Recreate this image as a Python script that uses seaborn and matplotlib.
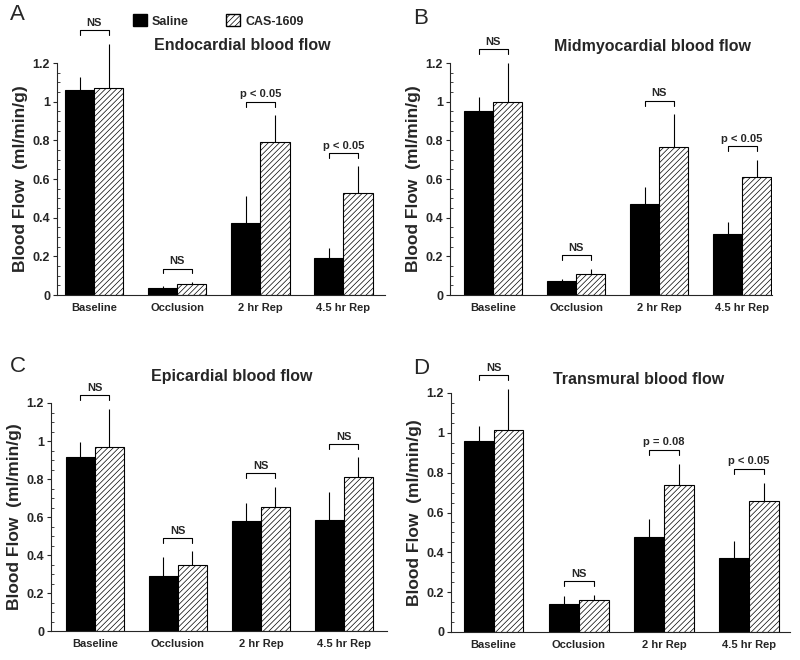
import numpy as np
import pandas as pd
import matplotlib
matplotlib.use("Agg")
import matplotlib.pyplot as plt
from matplotlib.patches import Patch
from matplotlib.ticker import MultipleLocator, FuncFormatter
import seaborn as sns

# ---------------------------------------------------------------- data
times = ["Baseline", "Occlusion", "2 hr Rep", "4.5 hr Rep"]
groups = ["Saline", "CAS-1609"]

titles = ["Endocardial blood flow", "Midmyocardial blood flow",
          "Epicardial blood flow", "Transmural blood flow"]
letters = ["A", "B", "C", "D"]

# panel A - endocardial
endo_saline = [1.06, 0.035, 0.37, 0.19]
endo_saline_err = [0.065, 0.01, 0.14, 0.055]
endo_cas = [1.07, 0.055, 0.79, 0.53]
endo_cas_err = [0.23, 0.012, 0.14, 0.135]
endo_sig = ["NS", "NS", "p < 0.05", "p < 0.05"]

# panel B - midmyocardial
mid_saline = [0.95, 0.07, 0.47, 0.315]
mid_saline_err = [0.075, 0.015, 0.09, 0.065]
mid_cas = [1.0, 0.11, 0.765, 0.61]
mid_cas_err = [0.2, 0.025, 0.17, 0.09]
mid_sig = ["NS", "NS", "NS", "p < 0.05"]

# panel C - epicardial
epi_saline = [0.915, 0.29, 0.58, 0.585]
epi_saline_err = [0.08, 0.1, 0.095, 0.145]
epi_cas = [0.97, 0.345, 0.655, 0.81]
epi_cas_err = [0.2, 0.075, 0.105, 0.105]
epi_sig = ["NS", "NS", "NS", "NS"]

# panel D - transmural
trans_saline = [0.96, 0.14, 0.475, 0.37]
trans_saline_err = [0.075, 0.04, 0.09, 0.085]
trans_cas = [1.015, 0.16, 0.74, 0.66]
trans_cas_err = [0.205, 0.025, 0.105, 0.09]
trans_sig = ["NS", "NS", "p = 0.08", "p < 0.05"]

panels = [
    (endo_saline, endo_saline_err, endo_cas, endo_cas_err, endo_sig),
    (mid_saline, mid_saline_err, mid_cas, mid_cas_err, mid_sig),
    (epi_saline, epi_saline_err, epi_cas, epi_cas_err, epi_sig),
    (trans_saline, trans_saline_err, trans_cas, trans_cas_err, trans_sig),
]

# ---------------------------------------------------------------- style
sns.set_style("ticks")
plt.rcParams["font.family"] = ["Liberation Sans", "DejaVu Sans"]
plt.rcParams["hatch.linewidth"] = 0.5
plt.rcParams["axes.linewidth"] = 0.8

W, H = 800, 660
fig = plt.figure(figsize=(8, 6.6), dpi=100)

# axes rects in pixels: left, top, right, bottom
rects = [(57, 63, 385, 295), (450, 63, 772, 295),
         (51, 403, 387, 631), (451, 393, 790, 632)]
xlims = [(-0.45, 3.5), (-0.52, 3.36), (-0.53, 3.52), (-0.5, 3.48)]
letter_pos = [(17, 15), (421, 18), (18, 366), (421, 368)]
title_pos = [(242, 45), (652, 47), (232, 377), (639, 379)]

HATCH = "//////"

for i, (sal, sal_err, cas, cas_err, sig) in enumerate(panels):
    l, t, r, b = rects[i]
    ax = fig.add_axes([l / W, 1 - b / H, (r - l) / W, (b - t) / H])

    df = pd.DataFrame({
        "time": times * 2,
        "group": [groups[0]] * 4 + [groups[1]] * 4,
        "flow": sal + cas,
    })
    sns.barplot(data=df, x="time", y="flow", hue="group", order=times,
                hue_order=groups, palette=["black", "white"],
                edgecolor="black", linewidth=0.8, width=0.7,
                errorbar=None, legend=False, ax=ax)

    for bar in ax.containers[1]:
        bar.set_hatch(HATCH)

    tops = []
    for cont, err in zip(ax.containers, [sal_err, cas_err]):
        xs = [p.get_x() + p.get_width() / 2 for p in cont]
        hs = [p.get_height() for p in cont]
        ax.errorbar(xs, hs, yerr=[np.zeros(len(err)), err], fmt="none",
                    ecolor="black", elinewidth=0.8, capsize=0, clip_on=False)
        tops.append((xs, np.array(hs) + np.array(err)))

    # significance brackets
    for j in range(len(times)):
        x1 = tops[0][0][j]
        x2 = tops[1][0][j]
        y = max(tops[0][1][j], tops[1][1][j]) + 0.07
        ax.plot([x1, x1, x2, x2], [y - 0.025, y, y, y - 0.025],
                color="black", lw=0.8, clip_on=False)
        ax.text((x1 + x2) / 2, y + 0.012, sig[j], ha="center", va="bottom",
                fontsize=8, fontweight="bold")

    ax.set_xlim(*xlims[i])
    ax.set_ylim(0, 1.2)
    ax.yaxis.set_major_locator(MultipleLocator(0.2))
    ax.yaxis.set_minor_locator(MultipleLocator(0.05))
    ax.yaxis.set_major_formatter(FuncFormatter(lambda v, p: f"{v:g}"))
    ax.tick_params(axis="y", which="major", direction="out", length=3,
                   width=0.8, labelsize=9, pad=2)
    ax.tick_params(axis="y", which="minor", direction="in", length=2,
                   width=0.6)
    ax.tick_params(axis="x", length=0, labelsize=8, pad=6)
    for lab in ax.get_xticklabels() + ax.get_yticklabels():
        lab.set_fontweight("bold")
    ax.set_xlabel("")
    ax.set_ylabel("Blood Flow  (ml/min/g)", fontsize=12.5,
                  fontweight="bold", labelpad=3)
    sns.despine(ax=ax)

    fig.text(letter_pos[i][0] / W, 1 - letter_pos[i][1] / H, letters[i],
             fontsize=16, ha="center", va="center")
    fig.text(title_pos[i][0] / W, 1 - title_pos[i][1] / H, titles[i],
             fontsize=11.5, fontweight="bold", ha="center", va="center")

# legend
handles = [Patch(facecolor="black", edgecolor="black"),
           Patch(facecolor="white", edgecolor="black", hatch=HATCH)]
leg = fig.legend(handles, groups, loc="center left",
                 bbox_to_anchor=(122 / W, 1 - 21 / H), ncol=2, frameon=False,
                 handlelength=1.1, handleheight=1.1, handletextpad=0.4,
                 columnspacing=3.0, prop={"weight": "bold", "size": 9})

fig.savefig("out.png", dpi=100)
